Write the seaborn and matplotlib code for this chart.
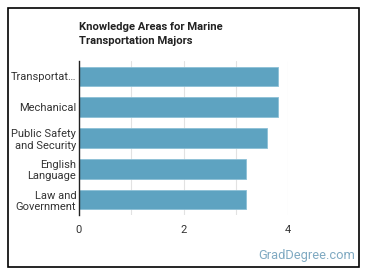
import seaborn as sns
import pandas as pd
from matplotlib import pyplot as plt
from matplotlib.patches import Rectangle

areas = ['Transportat…', 'Mechanical', 'Public Safety\nand Security',
         'English\nLanguage', 'Law and\nGovernment']
scores = [3.81, 3.81, 3.6, 3.2, 3.2]

df = pd.DataFrame({'area': areas, 'score': scores})

sns.set_style('white')
plt.rcParams['font.family'] = ['Roboto', 'DejaVu Sans']

fig = plt.figure(figsize=(3.7, 2.78), dpi=100)
ax = fig.add_axes([79 / 370, 1 - 215 / 278, 209 / 370, 154 / 278])

sns.barplot(data=df, x='score', y='area', color='#5ea3c1', saturation=1,
            width=0.63, edgecolor='#8cc0d6', linewidth=0.6, ax=ax)

ax.set_xlim(0, 4)
ax.set_xticks([0, 1, 2, 3, 4])
ax.set_xticklabels(['0', '', '2', '', '4'])
ax.grid(axis='x', color='#e2e2e2', linewidth=0.8)
ax.set_axisbelow(True)
ax.set(xlabel='', ylabel='')
for s in ['top', 'right', 'bottom']:
    ax.spines[s].set_visible(False)
ax.spines['left'].set_color('#222222')
ax.spines['left'].set_linewidth(1)
ax.tick_params(axis='both', length=0, labelsize=8, colors='#333333')
ax.tick_params(axis='x', pad=7)
ax.tick_params(axis='y', pad=2)

fig.text(79 / 370, 1 - 22 / 278, 'Knowledge Areas for Marine\nTransportation Majors',
         fontsize=8.1, fontweight='bold', color='#222222', va='top', ha='left',
         linespacing=1.55)
fig.text(355 / 370, 1 - 255 / 278, 'GradDegree.com', fontsize=9.3,
         color='#80aac2', ha='right', va='center')

fig.patches.append(Rectangle((8 / 370, 1 - 267 / 278), 351 / 370, 259 / 278,
                             transform=fig.transFigure, fill=False,
                             edgecolor='black', linewidth=1.2))

fig.savefig('out.png', dpi=100)
